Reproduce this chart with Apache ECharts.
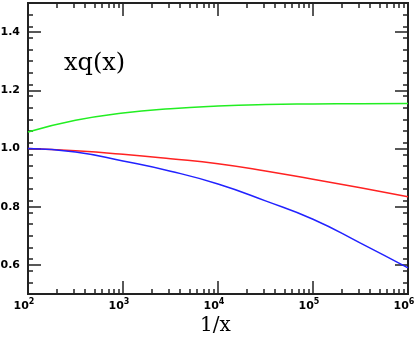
<!DOCTYPE html>
<html>
<head>
<meta charset="utf-8">
<script src="https://cdn.jsdelivr.net/npm/echarts@6/dist/echarts.min.js"></script>
<style>
  html, body { margin: 0; padding: 0; background: #fff; }
  #chart { width: 415px; height: 337px; }
</style>
</head>
<body>
<div id="chart"></div>
<script>
  // 1/x sample points (half decades)
  const invX = [100, 316.2, 1000, 3162, 10000, 31623, 100000, 316228, 1000000];
  const greenVals = [1.057, 1.097, 1.122, 1.137, 1.146, 1.151, 1.153, 1.154, 1.155];
  const redVals = [1.0, 0.992, 0.980, 0.965, 0.948, 0.923, 0.894, 0.865, 0.834];
  const blueVals = [1.0, 0.988, 0.957, 0.922, 0.878, 0.820, 0.757, 0.675, 0.590];

  const xMajor = [100, 1000, 10000, 100000, 1000000];
  const xMinor = [];
  [100, 1000, 10000, 100000].forEach(function (d) {
    for (let k = 2; k <= 9; k++) xMinor.push(d * k);
  });
  const yMajor = [0.6, 0.8, 1.0, 1.2, 1.4];
  const yMinor = [];
  for (let i = 0; i <= 25; i++) yMinor.push(+(0.5 + i * 0.04).toFixed(2));

  const axisColor = '#222';
  const lineStyle = { color: axisColor, width: 2 };

  function xAxis(pos, vals, len, labels) {
    return {
      type: 'log', logBase: 10, min: 100, max: 1000000, position: pos,
      axisLine: { show: true, onZero: false, lineStyle: lineStyle },
      axisTick: { show: true, inside: true, length: len, customValues: vals, lineStyle: { color: axisColor, width: 1.5 } },
      axisLabel: labels ? {
        show: true, customValues: xMajor, margin: 4, padding: [0, 8, 0, 0],
        formatter: function (v) { return '{b|10}{s|' + Math.round(Math.log10(v)) + '}'; },
        rich: {
          b: { fontSize: 11, fontWeight: 'bold', color: '#000', fontFamily: 'DejaVu Sans', verticalAlign: 'bottom' },
          s: { fontSize: 8, fontWeight: 'bold', color: '#000', fontFamily: 'DejaVu Sans', verticalAlign: 'top', padding: [0, 0, 6, 0] }
        }
      } : { show: false },
      splitLine: { show: false }
    };
  }
  function yAxis(pos, vals, len, labels) {
    return {
      type: 'value', min: 0.5, max: 1.5, position: pos,
      axisLine: { show: true, onZero: false, lineStyle: lineStyle },
      axisTick: { show: true, inside: true, length: len, customValues: vals, lineStyle: { color: axisColor, width: 1.5 } },
      axisLabel: labels ? {
        show: true, customValues: yMajor, margin: 8,
        fontSize: 11, fontWeight: 'bold', color: '#000', fontFamily: 'DejaVu Sans',
        formatter: function (v) { return v.toFixed(1); }
      } : { show: false },
      splitLine: { show: false }
    };
  }

  function curve(vals, color) {
    return {
      type: 'line', data: invX.map((x, i) => [x, vals[i]]),
      smooth: 0.5, showSymbol: false,
      lineStyle: { color: color, width: 1.5 }
    };
  }

  const chart = echarts.init(document.getElementById('chart'));
  const option = {
    animation: false,
    grid: { left: 28, right: 7, top: 3, bottom: 43, outerBoundsMode: 'none', containLabel: false },
    xAxis: [
      xAxis('bottom', xMajor, 13, true),
      xAxis('bottom', xMinor, 5, false),
      xAxis('top', xMajor, 13, false),
      xAxis('top', xMinor, 5, false)
    ],
    yAxis: [
      yAxis('left', yMajor, 13, true),
      yAxis('left', yMinor, 5, false),
      yAxis('right', yMajor, 13, false),
      yAxis('right', yMinor, 5, false)
    ],
    graphic: [
      { type: 'text', left: 64, top: 52, style: { text: 'xq(x)', font: '24px "DejaVu Serif"', fill: '#000' } },
      { type: 'text', left: 200, top: 316, style: { text: '1/x', font: '20px "DejaVu Serif"', fill: '#000' } }
    ],
    series: [
      curve(greenVals, '#22ee22'),
      curve(redVals, '#ff2222'),
      curve(blueVals, '#2222ff')
    ]
  };
  chart.setOption(option);
</script>
</body>
</html>
